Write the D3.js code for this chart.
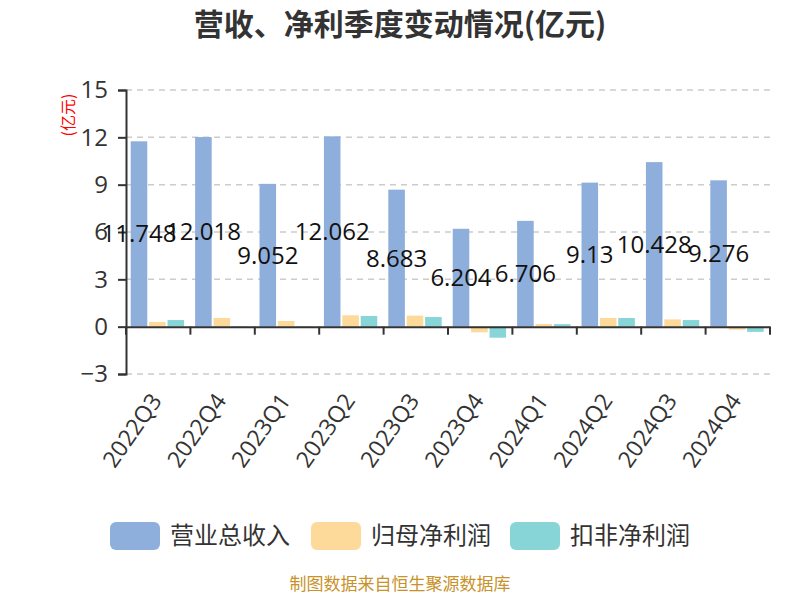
<!DOCTYPE html>
<html><head><meta charset="utf-8">
<script src="https://cdn.jsdelivr.net/npm/d3@7/dist/d3.min.js"></script>
<style>body{margin:0;background:#fff}svg{display:block}text{font-family:"Noto Sans CJK SC","Noto Sans",sans-serif}</style>
</head><body>
<svg id="c" width="800" height="600"></svg>
<script>
const categories = ["2022Q3","2022Q4","2023Q1","2023Q2","2023Q3","2023Q4","2024Q1","2024Q2","2024Q3","2024Q4"];
const revenue = [11.748,12.018,9.052,12.062,8.683,6.204,6.706,9.13,10.428,9.276];
const netProfit = [0.30,0.55,0.36,0.72,0.70,-0.36,0.17,0.55,0.46,-0.19];
const deductedProfit = [0.42,0.03,0.03,0.68,0.61,-0.70,0.16,0.55,0.42,-0.33];
const seriesNames = ["营业总收入","归母净利润","扣非净利润"];
const colors = ["#8eaedb","#fdd99a","#88d5d8"];
const yTicks = [-3,0,3,6,9,12,15];

const svg = d3.select("#c");
const L = 126, R = 770, T = 90, B = 374;
const numFont = "'Open Sans','Noto Sans',sans-serif";
const x = d3.scaleBand().domain(categories).range([L, R]);
const y = d3.scaleLinear().domain([-3, 15]).range([B, T]);
const sub = d3.scaleBand().domain([0,1,2]).range([-0.8, x.bandwidth()-0.8]).paddingInner(0.1).paddingOuter(0.3);

// title
svg.append("text").attr("x", 400).attr("y", 35).attr("text-anchor","middle")
  .attr("font-size", 30).attr("font-weight","bold").attr("fill","#333").text("营收、净利季度变动情况(亿元)");

// grid
svg.append("g").selectAll("line").data(yTicks.filter(d=>d!==0)).join("line")
  .attr("x1", L).attr("x2", R).attr("y1", d=>y(d)).attr("y2", d=>y(d))
  .attr("stroke","#ccc").attr("stroke-width",1.5).attr("stroke-dasharray","6,5");

// bars
const all = [revenue, netProfit, deductedProfit];
all.forEach((arr, si) => {
  svg.append("g").selectAll("rect").data(arr).join("rect")
    .attr("x", (d,i)=>x(categories[i]) + sub(si))
    .attr("width", sub.bandwidth())
    .attr("y", d=>Math.min(y(d), y(0)))
    .attr("height", d=>Math.abs(y(d)-y(0)))
    .attr("fill", colors[si]);
});

// y axis
const yAxis = d3.axisLeft(y).tickValues(yTicks).tickSize(8).tickPadding(10);
const gy = svg.append("g").attr("transform", `translate(${L},0)`).call(yAxis);
gy.select(".domain").attr("stroke","#333").attr("stroke-width",2);
gy.selectAll(".tick line").attr("stroke","#333").attr("stroke-width",2);
gy.selectAll(".tick text").attr("font-size",24).attr("fill","#333").style("font-family",numFont);

// x axis at zero
const xAxis = d3.axisBottom(x).tickSize(0).tickFormat("");
const gx = svg.append("g").attr("transform", `translate(0,${y(0)})`).call(xAxis);
gx.select(".domain").attr("stroke","#333").attr("stroke-width",2);
svg.append("g").selectAll("line").data(categories.concat(["__end"])).join("line")
  .attr("x1",(d,i)=>L + i*x.step()).attr("x2",(d,i)=>L + i*x.step())
  .attr("y1", y(0)).attr("y2", y(0)+8).attr("stroke","#333").attr("stroke-width",2);

// x labels
svg.append("g").selectAll("text").data(categories).join("text")
  .attr("transform", d=>`translate(${x(d)+x.bandwidth()/2-2},${B+22}) rotate(-55)`)
  .attr("text-anchor","end").attr("dy","0.35em").attr("font-size",23).attr("fill","#333")
  .style("font-family",numFont).text(d=>d);

// value labels
svg.append("g").selectAll("text").data(revenue).join("text")
  .attr("x",(d,i)=>x(categories[i]) + sub(0) + sub.bandwidth()/2)
  .attr("y", d=>y(d/2)).attr("dy","0.35em").attr("text-anchor","middle")
  .attr("font-size",24).attr("fill","#111").style("font-family",numFont)
  .text(d=>d);

// y unit label
svg.append("text").attr("transform","translate(68,115) rotate(-90)").attr("text-anchor","middle")
  .attr("dy","0.35em").attr("font-size",16).attr("fill","red").text("(亿元)");

// legend
const lx = [110, 311, 510];
seriesNames.forEach((n,i)=>{
  svg.append("rect").attr("x", lx[i]).attr("y",522).attr("width",50).attr("height",28).attr("rx",6).attr("fill",colors[i]);
  svg.append("text").attr("x", lx[i]+60).attr("y",536).attr("dy","0.35em").attr("font-size",24).attr("fill","#333").text(n);
});

// footer
svg.append("text").attr("x",400).attr("y",590).attr("text-anchor","middle").attr("font-size",17).attr("fill","#c8922a").text("制图数据来自恒生聚源数据库");
</script>
</body></html>
